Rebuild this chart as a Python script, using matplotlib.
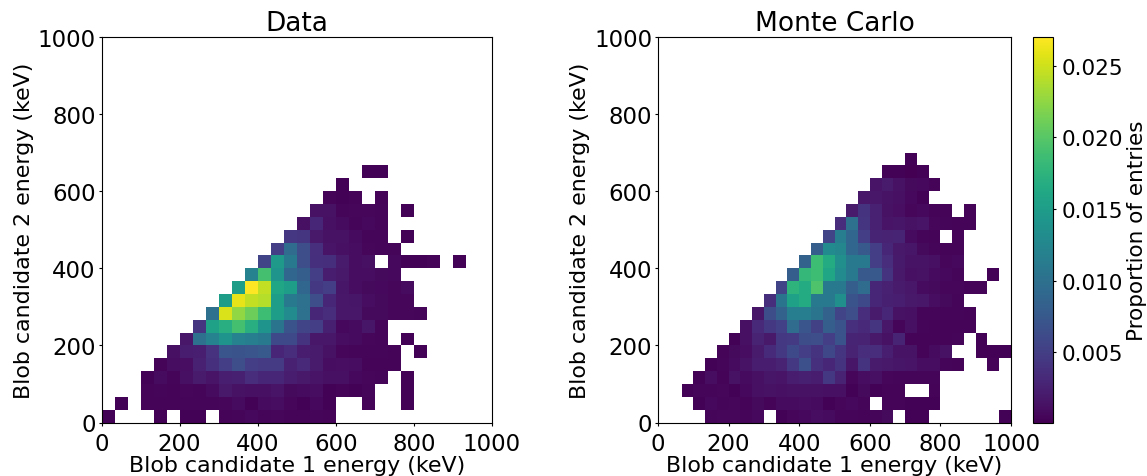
import numpy as np
import matplotlib
matplotlib.use('Agg')
import matplotlib.pyplot as plt

# each row of the 2d histograms: first filled column, then values in units of 1e-3 (0 = empty bin)
data_starts = [0, 1, 3, 3, 4, 5, 6, 7, 8, 9, 10, 11, 12, 13, 14, 15, 16, 17, 18, 20]
data_rows = [
    [.3, 0, 0, 0, .3, 0, .3, .3, 0, .4, .5, .7, .5, .6, .4, .4, .5, .4],
    [.3, 0, .4, .4, .4, .5, .5, .5, .6, .9, .3, .9, 1.0, .6, .3, .7, .3, 0, 0, .4, 0, 0, .3],
    [.4, .5, .4, .6, .5, .9, 1.8, 1.3, 1.2, 1.2, 1.5, .8, .9, 1.0, .3, .4, .3, .5, 0, 0, .3],
    [.3, .9, .5, 1.2, 2.0, 1.5, 2.4, 2.5, 3.5, 3.0, 3.0, 2.2, 1.8, 1.5, 1.2, 1.2, .7, .6, .5, 0, .3],
    [.4, 1.0, 1.1, 2.6, 3.8, 5.0, 6.5, 5.0, 4.8, 4.8, 2.6, 3.2, 2.0, 1.0, 1.1, 1.0, .4, .4, .4],
    [1.2, 2.2, 2.4, 3.9, 7.2, 7.0, 7.2, 7.5, 2.9, 3.5, 2.2, 2.0, 1.3, .6, .5, .5, .5, .4, 0, .3],
    [1.7, 10.0, 12.0, 14.0, 12.0, 11.5, 11.0, 6.0, 6.0, 4.0, 1.7, 1.7, 1.0, .9, .6, .5, 0, .3],
    [4.3, 15.5, 17.0, 19.0, 17.0, 14.0, 10.5, 7.0, 5.5, 5.0, 2.5, .7, .9, 1.6, .5],
    [10.0, 25.5, 22.5, 21.0, 18.5, 15.0, 13.0, 10.0, 3.0, 3.5, 1.7, 1.7, .8, .8, .6, .6, .5],
    [15.0, 26.0, 24.5, 24.0, 15.0, 11.0, 10.0, 6.5, 3.0, 1.7, 1.6, 1.0, .8, .6, .6],
    [15.0, 27.0, 24.5, 16.0, 15.0, 9.0, 4.5, 5.0, 1.6, 1.0, .8, .7, .6, .9],
    [12.0, 19.0, 14.0, 9.0, 8.0, 5.0, 2.3, 1.8, 1.0, 1.0, .8, .7],
    [5.5, 14.5, 11.0, 6.5, 3.8, 3.6, 2.0, 1.0, 1.2, 0, .7, .3, .3, .4, 0, .3],
    [5.0, 9.5, 6.5, 3.7, 1.5, 1.2, 1.0, .6, .5, .5],
    [4.4, 4.2, 1.8, 1.3, 1.3, .9, .5, .5, 0, .3],
    [1.2, 3.0, 1.2, .9, .5, .7, .5],
    [1.3, 1.3, .5, .6, .6, .5, 0, .3],
    [.4, .3, .4, 0, .4],
    [.3],
    [.3, .3],
]

mc_starts = [4, 3, 2, 3, 4, 5, 6, 7, 8, 9, 10, 11, 12, 13, 14, 15, 16, 17, 18, 19, 21]
mc_rows = [
    [.5, .6, .6, .5, .7, 0, .3, .6, .7, 1.0, .9, .5, .5, .4, .5, .8, 0, .3, .3, 0, 0, 0, 0, 0, 0, .3],
    [.3, .7, .5, .6, .4, .8, .4, .9, .9, 1.0, .9, .3, .6, .7, .5, 0, .4, .4, .3, .3, .3],
    [.3, .5, .5, .6, .3, .7, 1.2, 1.3, 1.2, 1.3, 1.3, 1.3, 1.2, 1.2, .3, .8, .3, .4, .4, 0, 0, .4],
    [.3, 1.0, .4, 1.3, .9, 1.2, 1.6, 1.5, 2.1, 2.5, 2.2, 4.5, 2.7, .6, 1.0, 1.2, .6, .5, .5, .5, .5],
    [.3, .5, .9, 1.4, 2.2, 2.2, 2.7, 4.5, 6.7, 3.8, 3.0, 4.0, 1.6, 4.0, 2.0, 1.8, 1.6, 1.5, 1.0, 1.0, .5, .4, 0, 0, .4],
    [.4, .8, 1.0, 2.0, 3.3, 4.5, 6.0, 5.0, 4.0, 5.8, 4.2, 2.7, 3.5, 3.5, 2.4, 1.4, 1.4, .4, .9, 1.3, 0, 0, .3, .3, .3],
    [.3, 1.2, 2.7, 1.8, 4.5, 4.6, 6.3, 6.5, 5.0, 7.0, 2.8, 2.7, 1.8, 1.3, 2.8, .4, .4, .4, .4, .5, 0, .3],
    [1.2, 3.2, 4.5, 5.2, 9.5, 7.2, 5.3, 8.0, 7.0, 3.7, 3.2, 4.2, 1.7, .5, 1.2, .5, .4, .4, .4, .4],
    [1.6, 6.3, 8.5, 11.5, 11.5, 10.5, 8.5, 5.5, 6.5, 3.5, 2.0, 3.0, 1.3, 1.2, .5, .5, .5, .5, .4],
    [3.6, 10.5, 15.5, 16.5, 11.0, 11.0, 13.5, 7.0, 6.0, 3.0, 2.5, 2.4, 1.8, 1.7, 1.0, .8, .5],
    [5.5, 17.5, 16.5, 19.5, 11.0, 11.0, 8.0, 9.5, 3.0, 2.6, 2.0, 1.7, .9, .8, .6, .6, .4, .4],
    [8.0, 18.0, 18.5, 16.0, 13.0, 11.0, 7.5, 7.5, 4.0, 1.8, 1.2, 1.3, .9, .7, .5, 0, 0, .3],
    [8.5, 18.5, 16.5, 13.5, 11.0, 11.0, 5.0, 3.5, 1.9, 1.4, 1.4, 1.2, .6, .7],
    [8.0, 13.0, 12.5, 9.0, 7.5, 5.0, 3.0, 1.8, 1.6, .8, .5, .4, .4],
    [5.5, 11.5, 9.0, 5.0, 2.8, 2.7, 2.8, .9, .5, .4, 0, .4],
    [3.5, 10.0, 4.3, 2.6, 1.5, 1.6, 1.3, 1.5, .6, .5, .4, .4],
    [2.0, 4.0, 2.6, 1.3, 1.1, .6, .7, .4, .4, 0, .4],
    [1.7, 1.7, 1.4, 1.2, .7, .3],
    [1.5, 2.0, 1.3, .8, .7, .4],
    [.3, .3, .2, .3],
    [.3],
]

n_bins = 30
tick_values = [0, 200, 400, 600, 800, 1000]
cbar_ticks = [0.005, 0.010, 0.015, 0.020, 0.025]


def build_grid(starts, rows):
    grid = np.full((n_bins, n_bins), np.nan)
    for r, (start, row) in enumerate(zip(starts, rows)):
        for i, value in enumerate(row):
            if value > 0:
                grid[r, start + i] = value * 1e-3
    return grid


def draw_panel(fig, rect, grid, title, edges):
    ax = fig.add_axes(rect)
    mesh = ax.pcolormesh(edges, edges, grid, cmap='viridis', vmin=0.0001, vmax=0.027)
    ax.set_xlim(0, 1000)
    ax.set_ylim(0, 1000)
    ax.set_xticks(tick_values)
    ax.set_yticks(tick_values)
    ax.tick_params(labelsize=16.5, length=2.5)
    ax.tick_params(axis='x', pad=4.5)
    ax.tick_params(axis='y', pad=1.6)
    ax.set_title(title, fontsize=19, pad=5)
    ax.set_xlabel('Blob candidate 1 energy (keV)', fontsize=15.9, labelpad=0)
    ax.set_ylabel('Blob candidate 2 energy (keV)', fontsize=15.9, labelpad=3)
    return mesh


def main():
    w, h = 1147, 477
    fig = plt.figure(figsize=(w / 100, h / 100), dpi=100)
    edges = np.linspace(0, 1000, n_bins + 1)

    draw_panel(fig, [101.5 / w, 1 - 423.5 / h, 390.5 / w, 385.5 / h],
               build_grid(data_starts, data_rows), 'Data', edges)
    mesh = draw_panel(fig, [658 / w, 1 - 423.5 / h, 353 / w, 385.5 / h],
                      build_grid(mc_starts, mc_rows), 'Monte Carlo', edges)

    cax = fig.add_axes([1033 / w, 1 - 423.5 / h, 20 / w, 385.5 / h])
    cbar = fig.colorbar(mesh, cax=cax)
    cbar.set_ticks(cbar_ticks)
    cbar.ax.tick_params(labelsize=15.5, length=2.5, pad=3.5)
    cbar.set_label('Proportion of entries', fontsize=15.5, labelpad=3)

    fig.savefig('out.png', dpi=100)


if __name__ == '__main__':
    main()
